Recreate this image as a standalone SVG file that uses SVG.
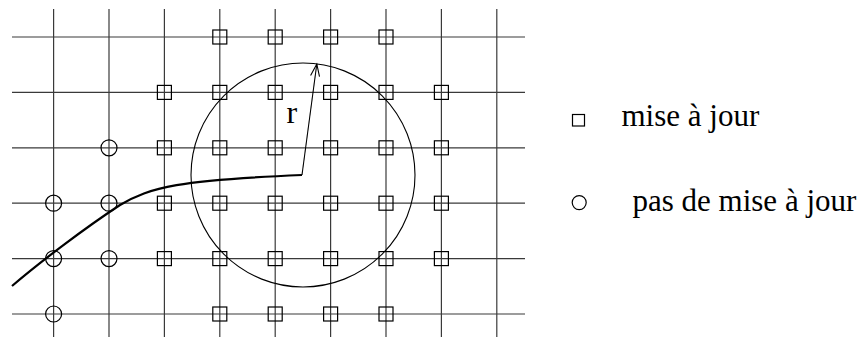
<svg xmlns="http://www.w3.org/2000/svg" width="867" height="338" viewBox="0 0 867 338">
<defs>
<rect id="sq" x="-7" y="-7" width="14" height="14" fill="none" stroke="#000" stroke-width="1.2"/>
<circle id="ci" r="8" fill="none" stroke="#000" stroke-width="1.2"/>
</defs>
<rect width="867" height="338" fill="#fff"/>
<g id="grid" stroke="#3a3a3a" stroke-width="1.2" fill="none">
<line x1="12" y1="37" x2="525" y2="37"/>
<line x1="12" y1="92.4" x2="525" y2="92.4"/>
<line x1="12" y1="147.8" x2="525" y2="147.8"/>
<line x1="12" y1="203.2" x2="525" y2="203.2"/>
<line x1="12" y1="258.6" x2="525" y2="258.6"/>
<line x1="12" y1="314" x2="525" y2="314"/>
<line x1="53.6" y1="9" x2="53.6" y2="337"/>
<line x1="109" y1="9" x2="109" y2="337"/>
<line x1="164.4" y1="9" x2="164.4" y2="337"/>
<line x1="219.8" y1="9" x2="219.8" y2="337"/>
<line x1="275.2" y1="9" x2="275.2" y2="337"/>
<line x1="330.6" y1="9" x2="330.6" y2="337"/>
<line x1="386" y1="9" x2="386" y2="337"/>
<line x1="441.4" y1="9" x2="441.4" y2="337"/>
<line x1="496.8" y1="9" x2="496.8" y2="337"/>
</g>
<g id="update-points">
<use href="#sq" x="219.8" y="37"/><use href="#sq" x="275.2" y="37"/><use href="#sq" x="330.6" y="37"/><use href="#sq" x="386" y="37"/>
<use href="#sq" x="164.4" y="92.4"/><use href="#sq" x="219.8" y="92.4"/><use href="#sq" x="275.2" y="92.4"/><use href="#sq" x="330.6" y="92.4"/><use href="#sq" x="386" y="92.4"/><use href="#sq" x="441.4" y="92.4"/>
<use href="#sq" x="164.4" y="147.8"/><use href="#sq" x="219.8" y="147.8"/><use href="#sq" x="275.2" y="147.8"/><use href="#sq" x="330.6" y="147.8"/><use href="#sq" x="386" y="147.8"/><use href="#sq" x="441.4" y="147.8"/>
<use href="#sq" x="164.4" y="203.2"/><use href="#sq" x="219.8" y="203.2"/><use href="#sq" x="275.2" y="203.2"/><use href="#sq" x="330.6" y="203.2"/><use href="#sq" x="386" y="203.2"/><use href="#sq" x="441.4" y="203.2"/>
<use href="#sq" x="164.4" y="258.6"/><use href="#sq" x="219.8" y="258.6"/><use href="#sq" x="275.2" y="258.6"/><use href="#sq" x="330.6" y="258.6"/><use href="#sq" x="386" y="258.6"/><use href="#sq" x="441.4" y="258.6"/>
<use href="#sq" x="219.8" y="314"/><use href="#sq" x="275.2" y="314"/><use href="#sq" x="330.6" y="314"/><use href="#sq" x="386" y="314"/>
</g>
<g id="no-update-points">
<use href="#ci" x="109" y="147.8"/>
<use href="#ci" x="53.6" y="203.2"/><use href="#ci" x="109" y="203.2"/>
<use href="#ci" x="53.6" y="258.6"/><use href="#ci" x="109" y="258.6"/>
<use href="#ci" x="53.6" y="314"/>
</g>
<g id="radius-circle" fill="none" stroke="#000" stroke-width="1.1">
<circle cx="303" cy="175" r="112"/>
</g>
<g id="connectors" fill="none" stroke="#000">
<path stroke-width="2.2" d="M12,286 C40,262 85,228 120,205 C150,187 180,180 302,175"/>
<path stroke-width="1.1" d="M302,175 L316.8,64"/>
<path stroke-width="1.1" d="M310.6,75.5 L316.8,64 L319.5,76.7"/>
</g>
<g id="legend-update">
<rect x="572.5" y="114.5" width="12" height="11.5" fill="none" stroke="#000" stroke-width="1.2"/>
</g>
<g id="legend-no-update">
<circle cx="579.2" cy="202.6" r="7" fill="none" stroke="#000" stroke-width="1.2"/>
</g>
<text id="label-r" x="286.5" y="122.7" font-size="32" font-family="Liberation Serif">r</text>
<text id="label-update" x="621.5" y="126" font-size="31" font-family="Liberation Serif">mise à jour</text>
<text id="label-no-update" x="632.5" y="210.7" font-size="31" font-family="Liberation Serif">pas de mise à jour</text>
</svg>
